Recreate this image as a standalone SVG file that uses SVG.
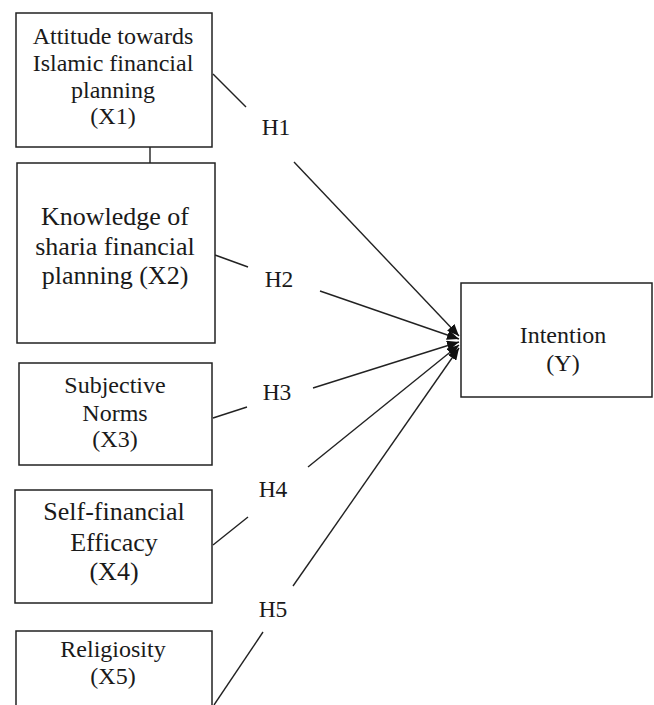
<svg xmlns="http://www.w3.org/2000/svg" width="654" height="705" viewBox="0 0 654 705">
<defs>
<style>
.box{fill:#fff;stroke:#222;stroke-width:1.5}
.ln{stroke:#222;stroke-width:1.4;fill:none}
text{fill:#1a1a1a;text-anchor:middle}
.t{font-size:24px}
.h{font-size:23.5px}
.tb{font-size:26px}
</style>
<marker id="ah" viewBox="0 0 12 10" refX="12" refY="5" markerWidth="12" markerHeight="10" markerUnits="userSpaceOnUse" orient="auto">
<path d="M0,0 L12,5 L0,10 Z" fill="#111"/>
</marker>
</defs>
<rect width="654" height="705" fill="#fff"/>
<g font-family="Liberation Serif, Times New Roman, serif">
<g id="connectors">
<line class="ln" x1="150" y1="140" x2="150" y2="168"/>
<line class="ln" x1="213" y1="74" x2="246" y2="107"/>
<line class="ln" x1="294" y1="162" x2="459" y2="336" marker-end="url(#ah)"/>
<line class="ln" x1="215" y1="255" x2="248" y2="267"/>
<line class="ln" x1="320" y1="291" x2="459" y2="339" marker-end="url(#ah)"/>
<line class="ln" x1="213" y1="418" x2="247" y2="407"/>
<line class="ln" x1="313" y1="388" x2="459" y2="342" marker-end="url(#ah)"/>
<line class="ln" x1="213" y1="545" x2="248" y2="517"/>
<line class="ln" x1="308" y1="467" x2="459" y2="345" marker-end="url(#ah)"/>
<line class="ln" x1="214" y1="705" x2="263" y2="632"/>
<line class="ln" x1="293" y1="586" x2="459" y2="348" marker-end="url(#ah)"/>
<text class="h" x="276" y="135">H1</text>
<text class="h" x="279" y="287">H2</text>
<text class="h" x="277" y="400">H3</text>
<text class="h" x="273" y="497">H4</text>
<text class="h" x="273" y="617">H5</text>
</g>
<g id="x1">
<rect class="box" x="16" y="13" width="196" height="134"/>
<text class="t" x="113" y="44">Attitude towards</text>
<text class="t" x="113" y="71">Islamic financial</text>
<text class="t" x="113" y="98">planning</text>
<text class="t" x="113" y="124">(X1)</text>
</g>
<g id="x2">
<rect class="box" x="17" y="163" width="198" height="180"/>
<text class="tb" x="115" y="225">Knowledge of</text>
<text class="tb" x="115" y="255">sharia financial</text>
<text class="tb" x="115" y="284">planning (X2)</text>
</g>
<g id="x3">
<rect class="box" x="19" y="363" width="193" height="102"/>
<text class="t" x="115" y="393">Subjective</text>
<text class="t" x="115" y="421">Norms</text>
<text class="t" x="115" y="447">(X3)</text>
</g>
<g id="x4">
<rect class="box" x="15" y="490" width="197" height="113"/>
<text class="tb" x="114" y="520">Self-financial</text>
<text class="tb" x="114" y="551">Efficacy</text>
<text class="tb" x="114" y="580">(X4)</text>
</g>
<g id="x5">
<rect class="box" x="16" y="631" width="196" height="90"/>
<text class="t" x="113" y="657">Religiosity</text>
<text class="t" x="113" y="684">(X5)</text>
</g>
<g id="y">
<rect class="box" x="461" y="283" width="191" height="114"/>
<text class="t" x="563" y="343">Intention</text>
<text class="t" x="563" y="371">(Y)</text>
</g>
</g>
</svg>
